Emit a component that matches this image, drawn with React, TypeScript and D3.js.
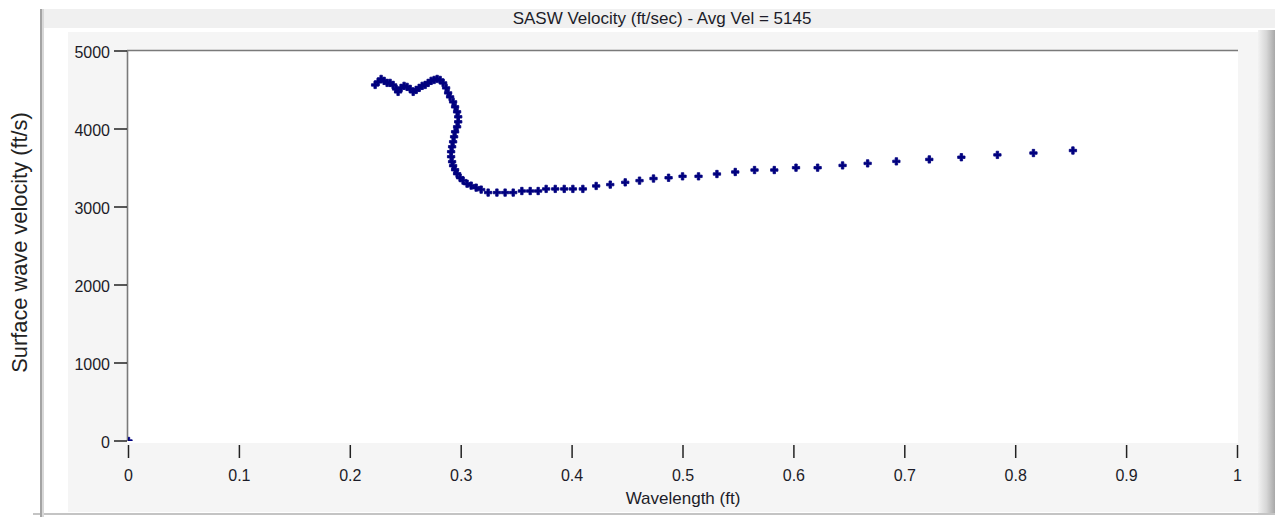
import React from 'react';
import * as d3 from 'd3';

const wavelength = [
  0,
  0.2224, 0.2251, 0.2278, 0.2305, 0.2332, 0.2359, 0.2386, 0.2413, 0.2431, 0.2458,
  0.2485, 0.2512, 0.254, 0.2567, 0.2594, 0.2621, 0.2648, 0.2675, 0.2702, 0.2729,
  0.2756, 0.2783, 0.281, 0.2837, 0.2864, 0.2882, 0.29, 0.2927, 0.2945, 0.2963,
  0.2973, 0.2973, 0.2963, 0.2945, 0.2936, 0.2927, 0.2918, 0.2909, 0.2909, 0.2918,
  0.2927, 0.2945, 0.2963, 0.299, 0.3017, 0.3053, 0.309, 0.3135, 0.318,
  0.3243, 0.3322, 0.3396, 0.3469, 0.3547, 0.3622, 0.3694, 0.3766, 0.3848, 0.3929,
  0.4007, 0.4097, 0.4217, 0.4344, 0.4479, 0.4608, 0.4734, 0.487, 0.4996, 0.514,
  0.5306, 0.5471, 0.5645, 0.5823, 0.6019, 0.6214, 0.6439, 0.6665, 0.6924, 0.7221,
  0.751, 0.7835, 0.816, 0.8516,
];

const velocity = [
  0,
  4565, 4604, 4642, 4617, 4591, 4591, 4565, 4514, 4476, 4527,
  4553, 4540, 4514, 4476, 4501, 4527, 4553, 4565, 4591, 4617,
  4629, 4642, 4629, 4591, 4527, 4463, 4412, 4348, 4284, 4220,
  4156, 4092, 4028, 3964, 3900, 3836, 3772, 3709, 3645, 3581,
  3530, 3478, 3427, 3376, 3338, 3299, 3274, 3248, 3223,
  3185, 3185, 3185, 3185, 3205, 3205, 3205, 3232, 3232, 3232,
  3232, 3232, 3270, 3287, 3316, 3338, 3365, 3375, 3393, 3393,
  3423, 3449, 3474, 3474, 3504, 3504, 3533, 3559, 3585, 3610,
  3638, 3668, 3692, 3724,
];

const xTicks = [0, 0.1, 0.2, 0.3, 0.4, 0.5, 0.6, 0.7, 0.8, 0.9, 1];
const xTickLabels = ['0', '0.1', '0.2', '0.3', '0.4', '0.5', '0.6', '0.7', '0.8', '0.9', '1'];
const yTicks = [0, 1000, 2000, 3000, 4000, 5000];
const yTickLabels = ['0', '1000', '2000', '3000', '4000', '5000'];

const chartTitle = 'SASW Velocity (ft/sec) - Avg Vel = 5145';
const xTitle = 'Wavelength (ft)';
const yTitle = 'Surface wave velocity (ft/s)';

export default function App() {
  const W = 1275;
  const H = 517;
  const plotL = 127;
  const plotR = 1238;
  const plotT = 50;
  const plotB = 443;

  const x = d3.scaleLinear().domain([0, 1]).range([128.5, 1237.5]);
  const y = d3.scaleLinear().domain([0, 5000]).range([441, 51]);
  const marker = d3.symbol(d3.symbolCross, 30)() || '';

  const uiFont = '"Liberation Sans", Arial, sans-serif';
  const textColor = '#1c1c28';

  const points = wavelength.map((w, i) => ({ w, v: velocity[i] }));

  return (
    <svg
      width={W}
      height={H}
      viewBox={`0 0 ${W} ${H}`}
      style={{ position: 'absolute', left: 0, top: 0, display: 'block', background: '#ffffff' }}
    >
      <defs>
        <linearGradient id="rbar" x1="0" x2="1" y1="0" y2="0">
          <stop offset="0" stopColor="#f2f2f2" />
          <stop offset="0.5" stopColor="#d6d6d6" />
          <stop offset="1" stopColor="#a8a8a8" />
        </linearGradient>
        <clipPath id="plotClip">
          <rect x={plotL + 1} y={plotT} width={plotR - plotL - 1} height={441 - plotT} />
        </clipPath>
      </defs>

      <rect x={0} y={0} width={W} height={H} fill="#ffffff" />
      <rect x={44} y={9} width={W - 44} height={19} fill="#f0f0f0" />
      <rect x={68} y={32} width={1258 - 68} height={512 - 32} fill="#f5f5f5" />
      <rect x={1258} y={30} width={17} height={484} fill="url(#rbar)" />
      <rect x={33} y={513} width={W - 33} height={2} fill="#c4c4c4" />
      <rect x={40} y={9} width={2} height={H - 9} fill="#a4a4a4" />
      <rect x={42} y={9} width={2} height={H - 9} fill="#d8d8d8" />

      <text x={662} y={24} textAnchor="middle" fontFamily={uiFont} fontSize={17} fill={textColor}>
        {chartTitle}
      </text>

      <rect x={plotL} y={plotT} width={plotR - plotL} height={plotB - plotT} fill="#ffffff" />
      <line x1={plotL} x2={plotR} y1={plotT + 0.5} y2={plotT + 0.5} stroke="#7a7a7a" strokeWidth={1.6} />
      <line x1={plotL + 0.5} x2={plotL + 0.5} y1={plotT} y2={441} stroke="#7a7a7a" strokeWidth={1.6} />

      {yTicks.map((t, i) => (
        <g key={`yt${i}`}>
          <line x1={114} x2={plotL} y1={y(t)} y2={y(t)} stroke="#222" strokeWidth={1.5} />
          <text x={110} y={y(t) + 7} textAnchor="end" fontFamily={uiFont} fontSize={16} fill={textColor}>
            {yTickLabels[i]}
          </text>
        </g>
      ))}

      {xTicks.map((t, i) => (
        <g key={`xt${i}`}>
          <line x1={x(t)} x2={x(t)} y1={445} y2={458} stroke="#222" strokeWidth={1.5} />
          <text x={x(t)} y={481} textAnchor="middle" fontFamily={uiFont} fontSize={16} fill={textColor}>
            {xTickLabels[i]}
          </text>
        </g>
      ))}

      <text x={683} y={504} textAnchor="middle" fontFamily={uiFont} fontSize={17} fill={textColor}>
        {xTitle}
      </text>
      <text
        transform={`translate(26.5, 242.5) rotate(-90)`}
        textAnchor="middle"
        fontFamily={uiFont}
        fontSize={21.8}
        fill="#222222"
      >
        {yTitle}
      </text>

      <g clipPath="url(#plotClip)">
        {points.map((p, i) => (
          <path
            key={`p${i}`}
            d={marker}
            transform={`translate(${x(p.w)},${y(p.v)})`}
            fill="#00007f"
            stroke="#00007f"
            strokeWidth={0.8}
            strokeLinejoin="round"
          />
        ))}
      </g>
    </svg>
  );
}
